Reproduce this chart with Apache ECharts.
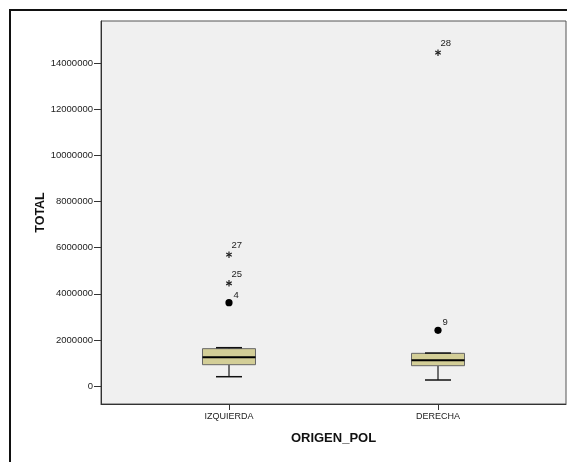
<!DOCTYPE html>
<html>
<head>
<meta charset="utf-8">
<script src="https://cdn.jsdelivr.net/npm/echarts@6/dist/echarts.min.js"></script>
<style>html,body{margin:0;padding:0;background:#fff}#c{width:567px;height:462px}</style>
</head>
<body>
<div id="c"></div>
<script>
const categories = ['IZQUIERDA', 'DERECHA'];
const whiskerLow = [403000, 260000];
const q1 = [924000, 881000];
const median = [1245000, 1114000];
const q3 = [1620000, 1417000];
const whiskerHigh = [1662000, 1430000];
const outlierGroup = [0, 0, 0, 1, 1];
const outlierValue = [3614000, 4456000, 5696000, 2416000, 14460000];
const outlierCase = ['4', '25', '27', '9', '28'];
const outlierKind = ['circle', 'star', 'star', 'circle', 'star'];
const yTicks = [0, 2000000, 4000000, 6000000, 8000000, 10000000, 12000000, 14000000];

const catPos = categories.map((c, i) => i + 1);
const boxData = categories.map((c, i) => [catPos[i], whiskerLow[i], q1[i], median[i], q3[i], whiskerHigh[i]]);
const outData = outlierValue.map((v, i) => [catPos[outlierGroup[i]], v, i]);

const FONT = 'Liberation Sans, Arial, sans-serif';
const chart = echarts.init(document.getElementById('c'));
chart.setOption({
  animation: false,
  backgroundColor: '#ffffff',
  graphic: [{
    type: 'rect', z: -10, silent: true,
    shape: { x: 10, y: 10, width: 700, height: 600 },
    style: { fill: 'none', stroke: '#111', lineWidth: 2 }
  }],
  grid: {
    left: 101, top: 21, right: 1, bottom: 58,
    show: true, backgroundColor: '#f0f0f0', borderColor: '#555', borderWidth: 1
  },
  xAxis: {
    type: 'value', min: 0.3876, max: 2.6124,
    splitLine: { show: false },
    axisLine: { show: true, onZero: false, lineStyle: { color: '#333', width: 1 } },
    axisTick: { show: true, length: 6, customValues: catPos, lineStyle: { color: '#333' } },
    axisLabel: {
      customValues: catPos, margin: 8, fontSize: 9, fontFamily: FONT, color: '#222',
      formatter: v => categories[Math.round(v) - 1] || ''
    },
    name: 'ORIGEN_POL', nameLocation: 'middle', nameGap: 28, nameMoveOverlap: false,
    nameTextStyle: { fontSize: 13, fontWeight: 'bold', fontFamily: FONT, color: '#111' }
  },
  yAxis: {
    type: 'value', min: -781000, max: 15835000,
    splitLine: { show: false },
    axisLine: { show: true, onZero: false, lineStyle: { color: '#333', width: 1 } },
    axisTick: { show: true, length: 7, customValues: yTicks, lineStyle: { color: '#333' } },
    axisLabel: {
      customValues: yTicks, margin: 8, fontSize: 9.5, fontFamily: FONT, color: '#222',
      formatter: v => String(v)
    },
    name: 'TOTAL', nameLocation: 'middle', nameGap: 54, nameMoveOverlap: false,
    nameTextStyle: { fontSize: 12.5, fontWeight: 'bold', fontFamily: FONT, color: '#111' }
  },
  series: [{
    type: 'custom',
    data: boxData,
    encode: { x: 0, y: [1, 2, 3, 4, 5] },
    renderItem: function (params, api) {
      const x = api.value(0);
      const lo = api.coord([x, api.value(1)]);
      const b1 = api.coord([x, api.value(2)]);
      const md = api.coord([x, api.value(3)]);
      const b3 = api.coord([x, api.value(4)]);
      const hi = api.coord([x, api.value(5)]);
      const cx = lo[0], hw = 26.5, cw = 13;
      return { type: 'group', children: [
        { type: 'line', shape: { x1: cx, y1: hi[1], x2: cx, y2: b3[1] }, style: { stroke: '#444', lineWidth: 1.5 } },
        { type: 'line', shape: { x1: cx, y1: b1[1], x2: cx, y2: lo[1] }, style: { stroke: '#444', lineWidth: 1.5 } },
        { type: 'line', shape: { x1: cx - cw, y1: lo[1], x2: cx + cw, y2: lo[1] }, style: { stroke: '#111', lineWidth: 1.5 } },
        { type: 'rect', shape: { x: cx - hw, y: b3[1], width: 2 * hw, height: b1[1] - b3[1] }, style: { fill: '#d3ce97', stroke: '#666', lineWidth: 1 } },
        { type: 'line', shape: { x1: cx - cw, y1: hi[1], x2: cx + cw, y2: hi[1] }, style: { stroke: '#111', lineWidth: 1.5 } },
        { type: 'line', shape: { x1: cx - hw, y1: md[1], x2: cx + hw, y2: md[1] }, style: { stroke: '#000', lineWidth: 2 } }
      ]};
    }
  }, {
    type: 'custom',
    data: outData,
    encode: { x: 0, y: 1 },
    renderItem: function (params, api) {
      const p = api.coord([api.value(0), api.value(1)]);
      const i = api.value(2);
      const kind = outlierKind[i];
      const children = [];
      if (kind === 'circle') {
        children.push({ type: 'circle', shape: { cx: p[0], cy: p[1], r: 3.6 }, style: { fill: '#000' } });
        children.push({ type: 'text', x: p[0] + 4.5, y: p[1] - 7.5, style: { text: outlierCase[i], textAlign: 'left', textVerticalAlign: 'middle', fontSize: 9.5, fontFamily: FONT, fill: '#222' } });
      } else {
        const r = 3.2;
        [90, 30, 150].forEach(a => {
          const rad = a * Math.PI / 180;
          const dx = r * Math.cos(rad), dy = r * Math.sin(rad);
          children.push({ type: 'line', shape: { x1: p[0] - dx, y1: p[1] - dy, x2: p[0] + dx, y2: p[1] + dy }, style: { stroke: '#222', lineWidth: 1.2 } });
        });
        children.push({ type: 'text', x: p[0] + 2.5, y: p[1] - 9, style: { text: outlierCase[i], textAlign: 'left', textVerticalAlign: 'middle', fontSize: 9.5, fontFamily: FONT, fill: '#222' } });
      }
      return { type: 'group', children: children };
    }
  }]
});
</script>
</body>
</html>
